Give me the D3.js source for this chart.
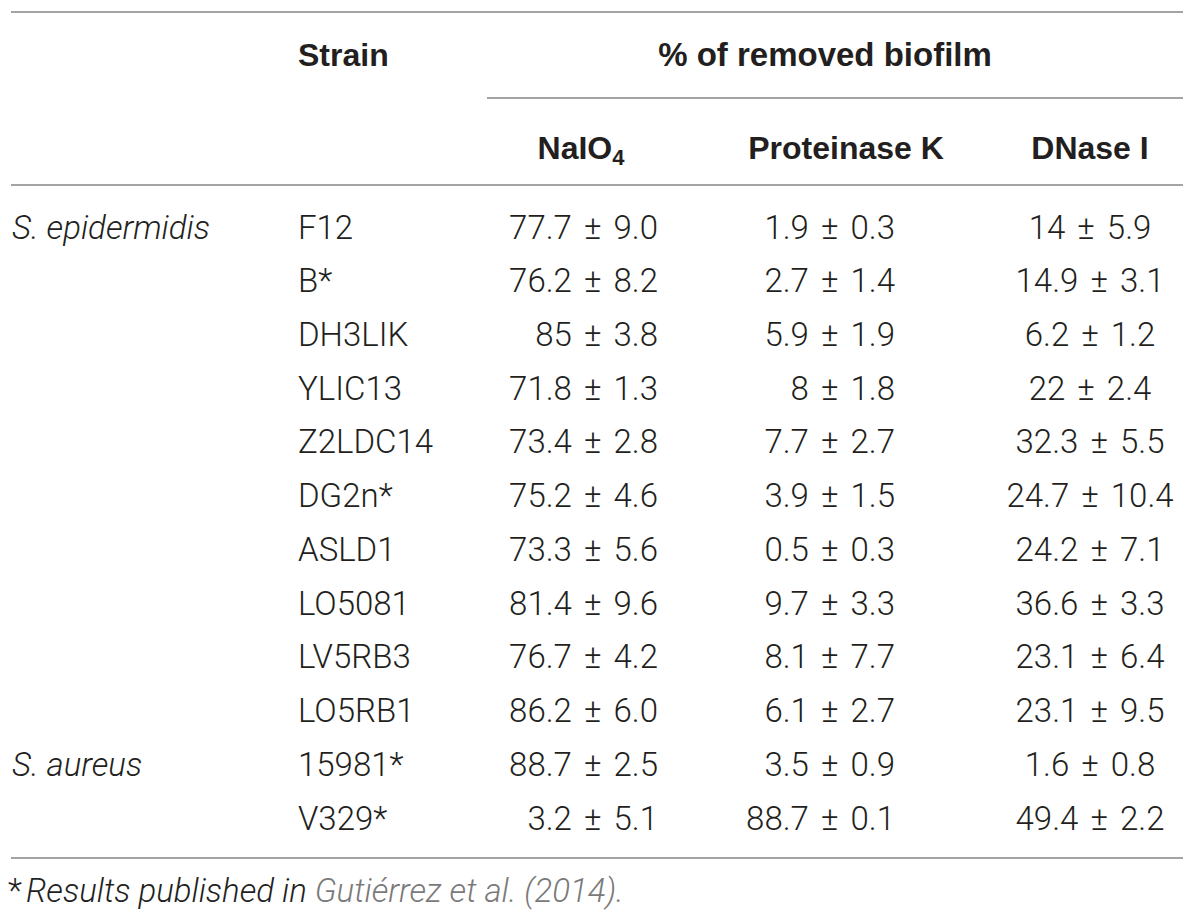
<!DOCTYPE html>
<html>
<head>
<meta charset="utf-8">
<script src="https://cdn.jsdelivr.net/npm/d3@7"></script>
<style>
  body { margin: 0; background: #fff; }
  text { fill: #231f20; }
</style>
</head>
<body>
<div id="vis"></div>
<script>
/********************************************************************
Datos de la tabla
*********************************************************************/
const species = ["S. epidermidis", "", "", "", "", "", "", "", "", "", "S. aureus", ""];
const strains = ["F12", "B*", "DH3LIK", "YLIC13", "Z2LDC14", "DG2n*", "ASLD1", "LO5081", "LV5RB3", "LO5RB1", "15981*", "V329*"];

const naio4Mean = ["77.7", "76.2", "85", "71.8", "73.4", "75.2", "73.3", "81.4", "76.7", "86.2", "88.7", "3.2"];
const naio4Sd   = ["9.0", "8.2", "3.8", "1.3", "2.8", "4.6", "5.6", "9.6", "4.2", "6.0", "2.5", "5.1"];
const protMean  = ["1.9", "2.7", "5.9", "8", "7.7", "3.9", "0.5", "9.7", "8.1", "6.1", "3.5", "88.7"];
const protSd    = ["0.3", "1.4", "1.9", "1.8", "2.7", "1.5", "0.3", "3.3", "7.7", "2.7", "0.9", "0.1"];
const dnaseMean = ["14", "14.9", "6.2", "22", "32.3", "24.7", "24.2", "36.6", "23.1", "23.1", "1.6", "49.4"];
const dnaseSd   = ["5.9", "3.1", "1.2", "2.4", "5.5", "10.4", "7.1", "3.3", "6.4", "9.5", "0.8", "2.2"];

const footMark = "*";
const footPlain = "Results published in ";
const footCite = "Gutiérrez et al. (2014).";

/********************************************************************
Tamaños
*********************************************************************/
const WIDTH = 1200;
const HEIGHT = 920;
const lineLeft = 11;
const lineRight = 1183;

const bodyFont = "Roboto, 'Liberation Sans', sans-serif";
const headFont = "'Liberation Sans', Arial, sans-serif";

const svg = d3.select("#vis")
    .append("svg")
    .attr("width", WIDTH)
    .attr("height", HEIGHT);

// Escala vertical para las filas
const rowY = d3.scalePoint()
    .domain(d3.range(strains.length))
    .range([227, 818]);

// Líneas horizontales
const rules = [
    { y: 12, x1: lineLeft, x2: lineRight },
    { y: 98, x1: 487, x2: lineRight },
    { y: 185, x1: lineLeft, x2: lineRight },
    { y: 858, x1: lineLeft, x2: lineRight }
];
svg.selectAll("line.rule")
    .data(rules)
    .enter()
    .append("line")
    .attr("class", "rule")
    .attr("x1", d => d.x1)
    .attr("x2", d => d.x2)
    .attr("y1", d => d.y)
    .attr("y2", d => d.y)
    .attr("stroke", "#a3a3a3")
    .attr("stroke-width", 2);

// Encabezados
const header = svg.append("g")
    .attr("font-family", headFont)
    .attr("font-weight", "bold")
    .attr("font-size", 32);

header.append("text").attr("x", 298).attr("y", 66).text("Strain");
header.append("text").attr("x", 825).attr("y", 66).attr("text-anchor", "middle")
    .attr("font-size", 33).text("% of removed biofilm");

const naioHead = header.append("text").attr("x", 581).attr("y", 159).attr("text-anchor", "middle");
naioHead.append("tspan").text("NaIO");
naioHead.append("tspan").attr("font-size", 22).attr("dy", 6).text("4");
header.append("text").attr("x", 846).attr("y", 159).attr("text-anchor", "middle").text("Proteinase K");
header.append("text").attr("x", 1090).attr("y", 159).attr("text-anchor", "middle").text("DNase I");

// Cuerpo
const body = svg.append("g")
    .attr("font-family", bodyFont)
    .attr("font-weight", 300)
    .attr("font-size", 33);

const rows = body.selectAll("g.row")
    .data(strains.map((s, i) => i))
    .enter()
    .append("g")
    .attr("class", "row")
    .attr("transform", i => `translate(0, ${rowY(i) + 11.5})`);

rows.append("text")
    .attr("x", 12)
    .attr("font-style", "italic")
    .text(i => species[i]);

rows.append("text")
    .attr("x", 298)
    .text(i => strains[i]);

rows.append("text")
    .attr("x", 658)
    .attr("text-anchor", "end")
    .attr("word-spacing", 4)
    .text(i => `${naio4Mean[i]} ± ${naio4Sd[i]}`);

rows.append("text")
    .attr("x", 895)
    .attr("text-anchor", "end")
    .attr("word-spacing", 4)
    .text(i => `${protMean[i]} ± ${protSd[i]}`);

rows.append("text")
    .attr("x", 1090)
    .attr("text-anchor", "middle")
    .attr("word-spacing", 4)
    .text(i => `${dnaseMean[i]} ± ${dnaseSd[i]}`);

// Nota al pie
const foot = svg.append("text")
    .attr("x", 8)
    .attr("y", 902)
    .attr("font-family", bodyFont)
    .attr("font-weight", 300)
    .attr("font-style", "italic")
    .attr("font-size", 33);
foot.append("tspan").attr("font-style", "normal").text(footMark);
foot.append("tspan").attr("dx", 4).text(footPlain);
foot.append("tspan").style("fill", "#7a7a7a").text(footCite);
</script>
</body>
</html>
